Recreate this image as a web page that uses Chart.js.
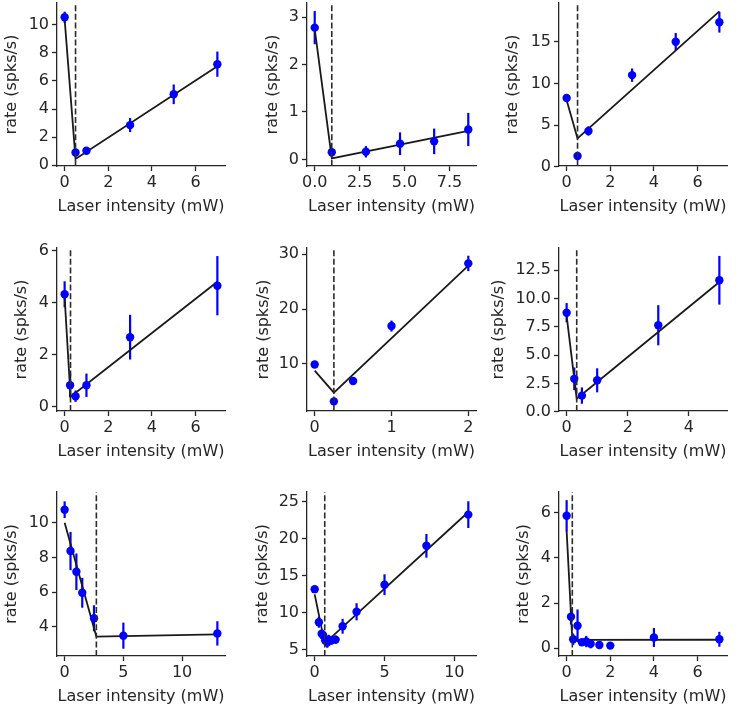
<!DOCTYPE html>
<html><head><meta charset="utf-8">
<script src="https://cdn.jsdelivr.net/npm/chart.js@4.4.1/dist/chart.umd.min.js"></script>
<style>
html,body{margin:0;padding:0;background:#fff;}
#wrap{position:relative;width:738px;height:708px;overflow:hidden;background:#fff;}
canvas{position:absolute;}
</style></head><body><div id="wrap"></div>
<script>
// ---------- data ----------
const x1=[0,0.5,1,3,5,7];
const y1=[10.55,0.9,1.02,2.85,5.05,7.2];
const e1=[0.4,0.2,0.25,0.5,0.7,0.9];
const fitX1=[0,0.5,7], fitY1=[10.4,0.43,7.05], thr1=0.5;
const xTicks1=[0,2,4,6], yTicks1=[0,2,4,6,8,10];

const x2=[0,0.95,2.85,4.75,6.65,8.55];
const y2=[2.78,0.15,0.16,0.33,0.38,0.63];
const e2=[0.35,0.08,0.12,0.24,0.27,0.35];
const fitX2=[0,0.95,8.55], fitY2=[2.75,0.02,0.6], thr2=0.95;
const xTicks2=[0,2.5,5,7.5], yTicks2=[0,1,2,3];

const x3=[0,0.5,1,3,5,7];
const y3=[8.25,1.3,4.3,11.0,15.0,17.35];
const e3=[0.25,0.2,0.55,0.8,1.05,1.25];
const fitX3=[0,0.5,7], fitY3=[8.0,3.4,18.65], thr3=0.5;
const xTicks3=[0,2,4,6], yTicks3=[0,5,10,15];

const x4=[0,0.25,0.5,1,3,7];
const y4=[4.32,0.82,0.4,0.82,2.67,4.65];
const e4=[0.5,0.45,0.22,0.45,0.86,1.14];
const fitX4=[0,0.27,7], fitY4=[4.2,0.38,4.8], thr4=0.27;
const xTicks4=[0,2,4,6], yTicks4=[0,2,4,6];

const x5=[0,0.25,0.5,1,2];
const y5=[9.9,3.2,6.9,16.9,28.3];
const e5=[0.35,0.5,0.45,1.0,1.4];
const fitX5=[0,0.25,2], fitY5=[8.8,4.8,27.9], thr5=0.25;
const xTicks5=[0,1,2], yTicks5=[10,20,30];

const x6=[0,0.25,0.5,1,3,5];
const y6=[8.74,2.9,1.42,2.77,7.63,11.6];
const e6=[0.85,1.0,0.72,1.06,1.77,2.15];
const fitX6=[0,0.33,5], fitY6=[8.45,1.15,11.45], thr6=0.33;
const xTicks6=[0,2,4], yTicks6=[0,2.5,5,7.5,10,12.5];

const x7=[0,0.5,1,1.5,2.5,5,13];
const y7=[10.75,8.37,7.18,5.97,4.5,3.5,3.63];
const e7=[0.48,1.1,1.05,0.86,0.75,0.75,0.7];
const fitX7=[0,2.7,13], fitY7=[10.0,3.45,3.58], thr7=2.7;
const xTicks7=[0,5,10], yTicks7=[4,6,8,10];

const x8=[0,0.3,0.5,0.6,0.75,0.9,1.0,1.2,1.5,2,3,5,8,11];
const y8=[13.2,8.75,7.2,7.0,6.3,6.0,6.4,6.3,6.4,8.2,10.15,13.8,19.05,23.25];
const e8=[0.3,0.75,0.55,0.6,0.65,0.7,0.65,0.6,0.55,1.0,1.15,1.4,1.6,1.8];
const fitX8=[0,0.72,11], fitY8=[12.5,5.9,23.6], thr8=0.72;
const xTicks8=[0,5,10], yTicks8=[5,10,15,20,25];

const x9=[0,0.2,0.3,0.5,0.7,0.9,1.1,1.5,2,4,7];
const y9=[5.87,1.4,0.4,1.0,0.27,0.3,0.2,0.15,0.12,0.48,0.4];
const e9=[0.69,0.35,0.25,0.72,0.15,0.25,0.2,0.08,0.05,0.42,0.33];
const fitX9=[0,0.26,7], fitY9=[5.2,0.37,0.38], thr9=0.26;
const xTicks9=[0,2,4,6], yTicks9=[0,2,4,6];

const xLabel='Laser intensity (mW)';
const yLabel='rate (spks/s)';

// ---------- panels built from the arrays ----------
const panels=[
 {x:x1,y:y1,e:e1,fx:fitX1,fy:fitY1,thr:thr1,xt:xTicks1,yt:yTicks1},
 {x:x2,y:y2,e:e2,fx:fitX2,fy:fitY2,thr:thr2,xt:xTicks2,yt:yTicks2},
 {x:x3,y:y3,e:e3,fx:fitX3,fy:fitY3,thr:thr3,xt:xTicks3,yt:yTicks3},
 {x:x4,y:y4,e:e4,fx:fitX4,fy:fitY4,thr:thr4,xt:xTicks4,yt:yTicks4},
 {x:x5,y:y5,e:e5,fx:fitX5,fy:fitY5,thr:thr5,xt:xTicks5,yt:yTicks5},
 {x:x6,y:y6,e:e6,fx:fitX6,fy:fitY6,thr:thr6,xt:xTicks6,yt:yTicks6},
 {x:x7,y:y7,e:e7,fx:fitX7,fy:fitY7,thr:thr7,xt:xTicks7,yt:yTicks7},
 {x:x8,y:y8,e:e8,fx:fitX8,fy:fitY8,thr:thr8,xt:xTicks8,yt:yTicks8},
 {x:x9,y:y9,e:e9,fx:fitX9,fy:fitY9,thr:thr9,xt:xTicks9,yt:yTicks9}
];

// ---------- layout (plot-area frames in page pixels) and axis ranges ----------
const frames=[
 {l:57,r:225,t:3,b:166,lab:12,   xr:[-0.35,7.35], yr:[-0.07,11.57], xd:0,yd:0},
 {l:307,r:476,t:3,b:166,lab:273, xr:[-0.43,8.98], yr:[-0.14,3.30],  xd:1,yd:0},
 {l:559,r:727,t:3,b:166,lab:512.5,xr:[-0.35,7.35],yr:[0.1,19.65],   xd:0,yd:0},
 {l:57,r:225,t:248,b:411,lab:22, xr:[-0.35,7.35], yr:[-0.17,6.1],   xd:0,yd:0},
 {l:307,r:476,t:248,b:411,lab:263.5,xr:[-0.1,2.1],yr:[1.45,31.1],   xd:0,yd:0},
 {l:559,r:727,t:248,b:411,lab:499,xr:[-0.25,5.25],yr:[0.06,14.45],  xd:0,yd:1},
 {l:57,r:225,t:492,b:656,lab:12, xr:[-0.65,13.65],yr:[2.33,11.77],  xd:0,yd:0},
 {l:307,r:476,t:492,b:656,lab:263,xr:[-0.55,11.55],yr:[4.19,26.3],  xd:0,yd:0},
 {l:559,r:727,t:492,b:656,lab:523.5,xr:[-0.35,7.35],yr:[-0.34,6.92],xd:0,yd:0}
];

const INK='#262626';
const BLUE='#0000ff';
Chart.defaults.font.family='DejaVu Sans';
Chart.defaults.font.size=16;
Chart.defaults.color=INK;

const errPlugin={
  id:'errbars',
  beforeDatasetsDraw(chart,args,o){
    const {ctx,chartArea:a,scales:{x:xs,y:ys}}=chart;
    ctx.save();
    ctx.beginPath();ctx.rect(a.left,a.top,a.right-a.left,a.bottom-a.top);ctx.clip();
    ctx.strokeStyle=o.color;ctx.lineWidth=o.width;ctx.lineCap='butt';
    o.x.forEach((xv,i)=>{
      const px=xs.getPixelForValue(xv);
      ctx.beginPath();
      ctx.moveTo(px,ys.getPixelForValue(o.y[i]-o.e[i]));
      ctx.lineTo(px,ys.getPixelForValue(o.y[i]+o.e[i]));
      ctx.stroke();
    });
    ctx.restore();
  }
};
const thrPlugin={
  id:'thresh',
  afterDatasetsDraw(chart,args,o){
    const {ctx,chartArea:a,scales:{x:xs}}=chart;
    const px=xs.getPixelForValue(o.value);
    ctx.save();
    ctx.strokeStyle=o.color;ctx.lineWidth=o.width;ctx.setLineDash(o.dash);
    ctx.beginPath();ctx.moveTo(px,a.bottom);ctx.lineTo(px,a.top);ctx.stroke();
    ctx.restore();
  }
};

const wrap=document.getElementById('wrap');
const PT=20, PR=12, XH=50;
panels.forEach((p,k)=>{
  const f=frames[k];
  const Lc=Math.floor(f.lab-9.6);
  const tpad=f.lab-9.6-Lc;
  const yW=f.l-Lc;
  const Tc=f.t-PT;
  const W=f.r+PR-Lc, H=f.b+XH-Tc;
  const cv=document.createElement('canvas');
  cv.width=W;cv.height=H;
  cv.style.left=Lc+'px';cv.style.top=Tc+'px';
  cv.style.width=W+'px';cv.style.height=H+'px';
  wrap.appendChild(cv);
  const axisCommon={
    type:'linear',
    grid:{display:true,drawOnChartArea:false,drawTicks:true,tickLength:5,tickWidth:1.3,tickColor:INK},
    border:{display:true,color:INK,width:1.3}
  };
  new Chart(cv,{
    type:'scatter',
    data:{datasets:[
      {data:p.x.map((v,i)=>({x:v,y:p.y[i]})),showLine:false,pointRadius:4.2,
       pointBackgroundColor:BLUE,pointBorderColor:BLUE,pointBorderWidth:0},
      {data:p.fx.map((v,i)=>({x:v,y:p.fy[i]})),showLine:true,borderColor:'#1a1a1a',
       borderWidth:1.8,pointRadius:0,fill:false,tension:0}
    ]},
    options:{
      responsive:false,animation:false,events:[],
      layout:{padding:{top:PT,right:PR,left:0,bottom:0}},
      plugins:{
        legend:{display:false},tooltip:{enabled:false},
        errbars:{x:p.x,y:p.y,e:p.e,color:BLUE,width:2.2},
        thresh:{value:p.thr,color:'#2b2b2b',width:1.6,dash:[6,2.6]}
      },
      scales:{
        x:Object.assign({},axisCommon,{
          position:'bottom',min:f.xr[0],max:f.xr[1],
          afterBuildTicks:s=>{s.ticks=p.xt.map(v=>({value:v}));},
          afterFit:s=>{s.height=XH;},
          ticks:{autoSkip:false,maxRotation:0,minRotation:0,padding:2,color:INK,
                 callback:v=>Number(v).toFixed(f.xd)},
          title:{display:true,text:xLabel,color:INK,padding:{top:0,bottom:0}}
        }),
        y:Object.assign({},axisCommon,{
          position:'left',min:f.yr[0],max:f.yr[1],
          afterBuildTicks:s=>{s.ticks=p.yt.map(v=>({value:v}));},
          afterFit:s=>{s.width=yW;},
          ticks:{autoSkip:false,padding:3,color:INK,
                 callback:v=>Number(v).toFixed(f.yd)},
          title:{display:true,text:yLabel,color:INK,padding:{top:tpad,bottom:0}}
        })
      }
    },
    plugins:[errPlugin,thrPlugin]
  });
});
</script>
</body></html>
